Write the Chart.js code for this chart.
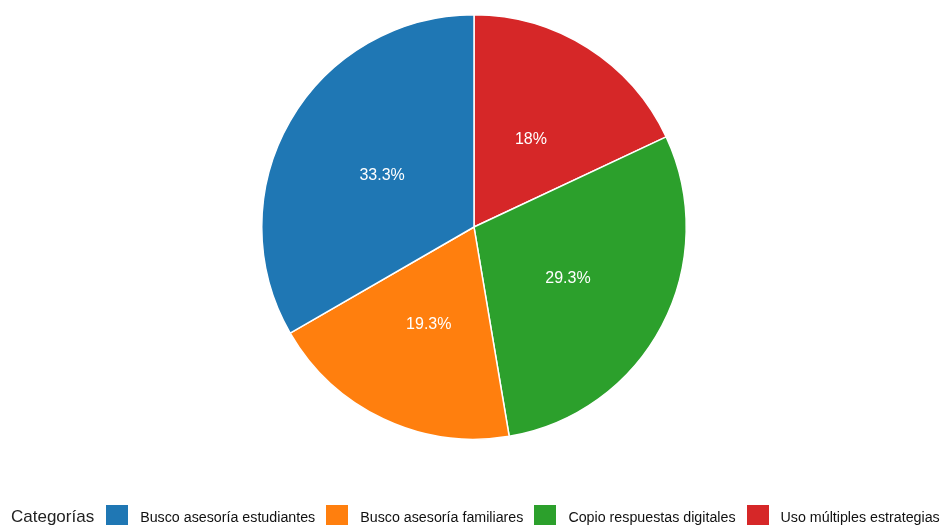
<!DOCTYPE html>
<html>
<head>
<meta charset="utf-8">
<script src="https://cdn.jsdelivr.net/npm/chart.js@4"></script>
<style>
  html, body { margin: 0; padding: 0; background: #fff; overflow: hidden; }
  #wrap { position: relative; width: 940px; height: 525px; }
  #legend {
    position: absolute; left: 11px; top: 505px; height: 24px; white-space: nowrap;
    display: flex; align-items: flex-start;
    font-family: "Liberation Sans", Arial, sans-serif; color: #111;
  }
  #legend .title { font-size: 17px; margin-right: 12px; line-height: 24px; color: #222; }
  #legend .item { display: flex; align-items: flex-start; margin-right: 11px; font-size: 14.25px; }
  #legend .box { width: 22px; height: 22px; margin-right: 12px; }
  #legend .txt { line-height: 24px; }
</style>
</head>
<body>
<div id="wrap">
  <canvas id="chart" width="940" height="525"></canvas>
  <div id="legend"></div>
</div>
<script>
  var legendTitle = 'Categorías';
  var categories = ['Busco asesoría estudiantes', 'Busco asesoría familiares', 'Copio respuestas digitales', 'Uso múltiples estrategias'];
  var values = [33.3, 19.3, 29.3, 18];
  var valueLabels = ['33.3%', '19.3%', '29.3%', '18%'];
  var colors = ['#1f77b4', '#ff7f0e', '#2ca02c', '#d62728'];

  // reference runs counter-clockwise from the top, Chart.js runs clockwise: reverse
  var order = [3, 2, 1, 0];
  var pick = function(arr) { return order.map(function(i) { return arr[i]; }); };

  var sliceLabels = {
    id: 'sliceLabels',
    afterDatasetsDraw: function(chart) {
      var ctx = chart.ctx;
      var meta = chart.getDatasetMeta(0);
      var texts = pick(valueLabels);
      ctx.save();
      ctx.fillStyle = '#fff';
      ctx.font = '16px "Liberation Sans", Arial, sans-serif';
      ctx.textAlign = 'center';
      ctx.textBaseline = 'middle';
      meta.data.forEach(function(arc, i) {
        var mid = (arc.startAngle + arc.endAngle) / 2;
        var r = arc.outerRadius * 0.5;
        ctx.fillText(texts[i], arc.x + Math.cos(mid) * r, arc.y + Math.sin(mid) * r + 2);
      });
      ctx.restore();
    }
  };

  new Chart(document.getElementById('chart').getContext('2d'), {
    type: 'pie',
    data: {
      labels: pick(categories),
      datasets: [{
        data: pick(values),
        backgroundColor: pick(colors),
        borderColor: '#fff',
        borderWidth: 1.5
      }]
    },
    options: {
      responsive: false,
      animation: false,
      layout: { padding: { top: 14, bottom: 85, left: 8, right: 0 } },
      plugins: {
        legend: { display: false },
        tooltip: { enabled: false }
      }
    },
    plugins: [sliceLabels]
  });

  var leg = document.getElementById('legend');
  var t = document.createElement('span');
  t.className = 'title';
  t.textContent = legendTitle;
  leg.appendChild(t);
  categories.forEach(function(c, i) {
    var item = document.createElement('span');
    item.className = 'item';
    item.innerHTML = '<span class="box" style="background:' + colors[i] + '"></span><span class="txt"></span>';
    item.querySelector('.txt').textContent = c;
    leg.appendChild(item);
  });
</script>
</body>
</html>
